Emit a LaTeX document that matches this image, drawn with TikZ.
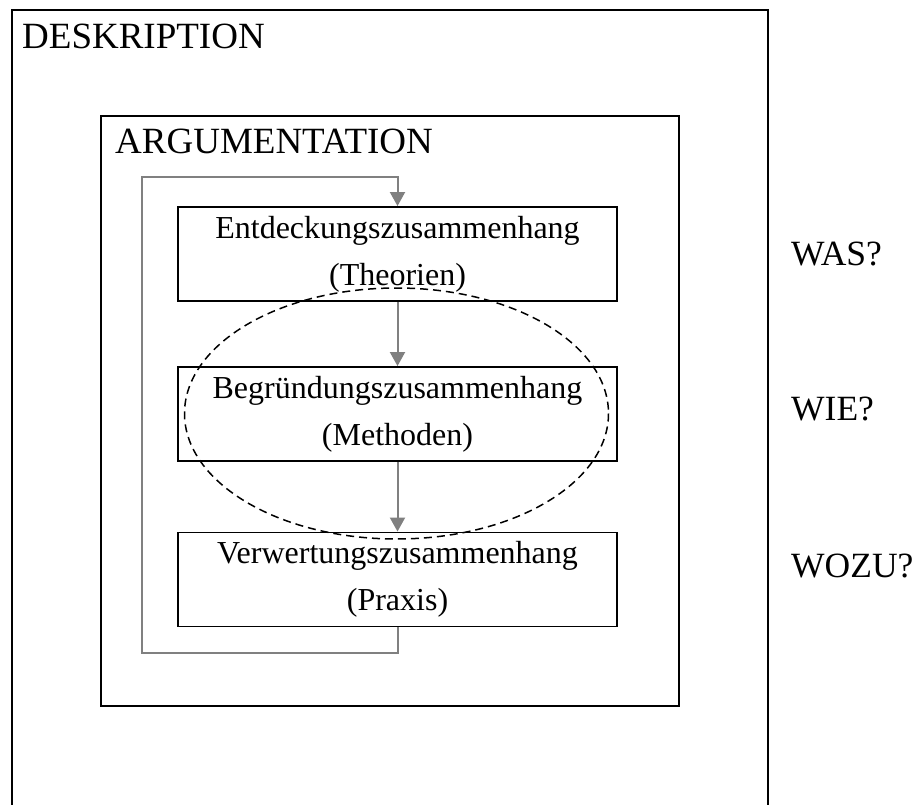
\documentclass[tikz,border=0pt]{standalone}
\usepackage{fontspec}
\setmainfont{Liberation Serif}
\usetikzlibrary{arrows.meta}
\definecolor{flowgray}{RGB}{128,128,128}
\begin{document}
\begin{tikzpicture}[x=1pt,y=-1pt,
  frame/.style={draw=black,line width=2pt},
  stage/.style={draw=black,line width=1.9pt,minimum width=439pt,minimum height=94pt,
    align=center,inner sep=0pt,font=\fontsize{32}{47}\selectfont},
  flow/.style={draw=flowgray,line width=2pt,-{Triangle[length=14pt,width=15pt]}},
  bigtitle/.style={anchor=base west,inner sep=0pt,font=\fontsize{37}{44}\selectfont},
  question/.style={anchor=base west,inner sep=0pt,font=\fontsize{35.5}{42}\selectfont},
  focus/.style={draw=black,line width=1.5pt,dash pattern=on 8pt off 5pt}]
\useasboundingbox (0,0) rectangle (923,805);
\fill[white] (0,0) rectangle (923,805);

% outer frame, open at the bottom
\draw[frame] (12,805) -- (12,10) -- (768,10) -- (768,805);
\node[bigtitle] (desk) at (22,49) {DESKRIPTION};

% inner frame
\draw[frame] (101,116) rectangle (679,706);
\node[bigtitle] (arg) at (115,154) {ARGUMENTATION};

% the three stages
\node[stage] (b1) at (397.5,254) {Entdeckungszusammenhang\\(Theorien)};
\node[stage] (b2) at (397.5,414) {Begründungszusammenhang\\(Methoden)};
\node[stage] (b3) at (397.5,579.5) {Verwertungszusammenhang\\(Praxis)};

\draw[flow] (b1) -- (b2);
\draw[flow] (b2) -- (b3);

% feedback loop
\coordinate (lb) at (142,653);
\coordinate (lt) at (142,177);
\draw[flow] (b3.south) |- (lb) -- (lt) -| (b1.north);

% dashed focus ellipse
\draw[focus] (396.5,413.5) ellipse [x radius=212, y radius=125.5];

% questions
\node[question] (was) at (791,265) {WAS?};
\node[question] (wie) at (791,420) {WIE?};
\node[question] (wozu) at (791,577) {WOZU?};
\end{tikzpicture}
\end{document}
